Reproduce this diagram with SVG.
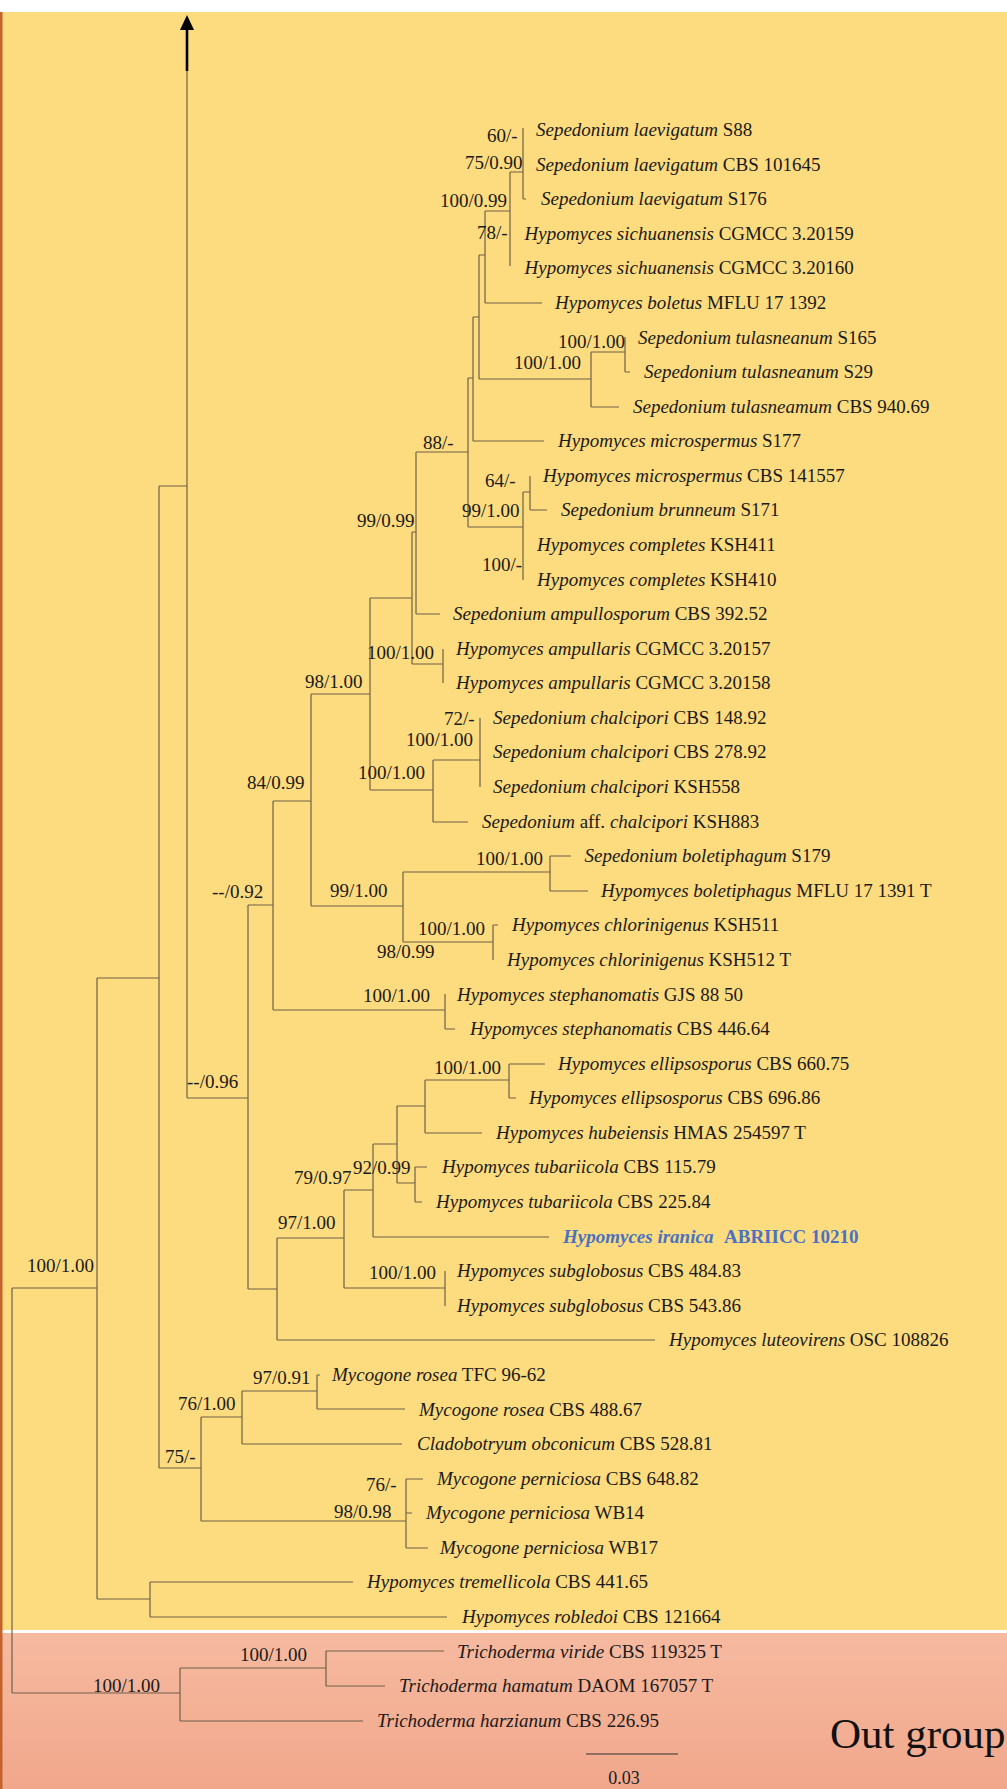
<svg xmlns="http://www.w3.org/2000/svg" width="1007" height="1789" viewBox="0 0 1007 1789">
<style>
.br{fill:none;stroke:#6f6148;stroke-width:1.2}
.lf{font-family:"Liberation Serif","Times New Roman",serif;font-size:19px;fill:#1a1a1a}
.sp{font-family:"Liberation Serif","Times New Roman",serif;font-size:19px;fill:#1a1a1a}
.i{font-style:italic}
</style>
<defs>
<linearGradient id="og" x1="0" y1="0" x2="0" y2="1">
<stop offset="0" stop-color="#F6BAA0"/>
<stop offset="1" stop-color="#F1A78B"/>
</linearGradient>
</defs>
<rect x="0" y="0" width="1007" height="1789" fill="#ffffff"/>
<rect x="0" y="12" width="1007" height="1618" fill="#FDDB7F"/>
<rect x="0" y="1633" width="1007" height="156" fill="url(#og)"/>
<rect x="0" y="12" width="2.5" height="1777" fill="#C4622D"/>

<g id="connectors">
<path class="br" d="M12,1288V1693M12,1288H97M12,1693H180
M180,1668V1721M180,1668H326M180,1721H363M326,1651V1686M326,1651H444M326,1686H385
M97,978V1599M97,1599H150M150,1582V1617M150,1582H353M150,1617H447
M97,978H159M159,486V1468M159,486H187M187,71V1098
M159,1468H201M201,1417V1521M201,1417H242M242,1391V1444M242,1391H317M317,1375V1409M317,1375H320M317,1409H405M242,1444H402
M201,1521H406M406,1479V1548M406,1479H423M406,1513H412M406,1548H428
M187,1098H248M248,905V1289M248,1289H277M277,1238V1340M277,1340H655M277,1238H344
M344,1190V1288M344,1288H445M445,1271V1306
M344,1190H373M373,1144V1237M373,1237H549M373,1144H397M397,1106V1183
M397,1106H425M425,1080V1133M425,1133H482M425,1080H509M509,1064V1098M509,1064H545M509,1098H516
M397,1183H415M415,1167V1202M415,1167H427M415,1202H422
M248,905H273M273,801V1010M273,1010H445M445,994V1029M445,1029H455
M273,801H311M311,694V906M311,906H403M403,872V942M403,872H550M550,856V891M550,856H571M550,891H588
M403,942H493M493,925V960M493,925H498
M311,694H370M370,598V790M370,790H433M433,760V822M433,760H480M480,718V787M433,822H468
M370,598H412M412,532V664M412,664H443M443,649V683M412,532H416M416,452V614M416,614H440
M416,452H468M468,378V527M468,527H523M523,492V580M523,492H530M530,476V510M530,510H547
M468,378H473M473,317V441M473,441H544M473,317H479M479,255V379M479,379H591
M591,352V407M591,407H619M591,352H625M625,337V372M625,372H630
M479,255H485M485,211V303M485,303H542M485,211H510M510,172V266M510,172H523M523,128V199M523,199H526"/>
<path d="M187,29V71" stroke="#000" stroke-width="2.6" fill="none"/>
<polygon points="187,15 180,30 194,30" fill="#000"/>
<path d="M586,1754H678" stroke="#333" stroke-width="1.1" fill="none"/>
</g>

<g id="support">
<text class="sp" x="487" y="142">60/-</text>
<text class="sp" x="465" y="169">75/0.90</text>
<text class="sp" x="440" y="207">100/0.99</text>
<text class="sp" x="477" y="239">78/-</text>
<text class="sp" x="558" y="348">100/1.00</text>
<text class="sp" x="514" y="369">100/1.00</text>
<text class="sp" x="423" y="449">88/-</text>
<text class="sp" x="485" y="487">64/-</text>
<text class="sp" x="462" y="517">99/1.00</text>
<text class="sp" x="357" y="527">99/0.99</text>
<text class="sp" x="482" y="571">100/-</text>
<text class="sp" x="367" y="659">100/1.00</text>
<text class="sp" x="305" y="688">98/1.00</text>
<text class="sp" x="444" y="725">72/-</text>
<text class="sp" x="406" y="746">100/1.00</text>
<text class="sp" x="358" y="779">100/1.00</text>
<text class="sp" x="247" y="789">84/0.99</text>
<text class="sp" x="476" y="865">100/1.00</text>
<text class="sp" x="330" y="897">99/1.00</text>
<text class="sp" x="212" y="898">--/0.92</text>
<text class="sp" x="418" y="935">100/1.00</text>
<text class="sp" x="377" y="958">98/0.99</text>
<text class="sp" x="363" y="1002">100/1.00</text>
<text class="sp" x="434" y="1074">100/1.00</text>
<text class="sp" x="187" y="1088">--/0.96</text>
<text class="sp" x="353" y="1174">92/0.99</text>
<text class="sp" x="294" y="1184">79/0.97</text>
<text class="sp" x="278" y="1229">97/1.00</text>
<text class="sp" x="27" y="1272">100/1.00</text>
<text class="sp" x="369" y="1279">100/1.00</text>
<text class="sp" x="253" y="1384">97/0.91</text>
<text class="sp" x="178" y="1410">76/1.00</text>
<text class="sp" x="165" y="1463">75/-</text>
<text class="sp" x="366" y="1491">76/-</text>
<text class="sp" x="334" y="1518">98/0.98</text>
<text class="sp" x="240" y="1661">100/1.00</text>
<text class="sp" x="93" y="1692">100/1.00</text>
</g>

<g id="leaves">
<g id="n1"><text class="lf" x="536" y="136"><tspan class="i">Sepedonium laevigatum</tspan> S88</text></g>
<g id="n2"><text class="lf" x="536" y="170.6"><tspan class="i">Sepedonium laevigatum</tspan> CBS 101645</text></g>
<g id="n3"><text class="lf" x="541" y="205"><tspan class="i">Sepedonium laevigatum</tspan> S176</text></g>
<g id="n4"><text class="lf" x="524.5" y="239.7"><tspan class="i">Hypomyces sichuanensis</tspan> CGMCC 3.20159</text></g>
<g id="n5"><text class="lf" x="524.5" y="274.3"><tspan class="i">Hypomyces sichuanensis</tspan> CGMCC 3.20160</text></g>
<g id="n6"><text class="lf" x="555" y="309"><tspan class="i">Hypomyces boletus</tspan> MFLU 17 1392</text></g>
<g id="n7"><text class="lf" x="638" y="343.5"><tspan class="i">Sepedonium tulasneanum</tspan> S165</text></g>
<g id="n8"><text class="lf" x="644" y="378"><tspan class="i">Sepedonium tulasneanum</tspan> S29</text></g>
<g id="n9"><text class="lf" x="633" y="412.6"><tspan class="i">Sepedonium tulasneamum</tspan> CBS 940.69</text></g>
<g id="n10"><text class="lf" x="558" y="447.2"><tspan class="i">Hypomyces microspermus</tspan> S177</text></g>
<g id="n11"><text class="lf" x="543" y="481.8"><tspan class="i">Hypomyces microspermus</tspan> CBS 141557</text></g>
<g id="n12"><text class="lf" x="561" y="516.4"><tspan class="i">Sepedonium brunneum</tspan> S171</text></g>
<g id="n13"><text class="lf" x="537" y="551"><tspan class="i">Hypomyces completes</tspan> KSH411</text></g>
<g id="n14"><text class="lf" x="537" y="585.5"><tspan class="i">Hypomyces completes</tspan> KSH410</text></g>
<g id="n15"><text class="lf" x="453" y="620"><tspan class="i">Sepedonium ampullosporum</tspan> CBS 392.52</text></g>
<g id="n16"><text class="lf" x="456" y="654.7"><tspan class="i">Hypomyces ampullaris</tspan> CGMCC 3.20157</text></g>
<g id="n17"><text class="lf" x="456" y="689.3"><tspan class="i">Hypomyces ampullaris</tspan> CGMCC 3.20158</text></g>
<g id="n18"><text class="lf" x="493" y="723.9"><tspan class="i">Sepedonium chalcipori</tspan> CBS 148.92</text></g>
<g id="n19"><text class="lf" x="493" y="758.4"><tspan class="i">Sepedonium chalcipori</tspan> CBS 278.92</text></g>
<g id="n20"><text class="lf" x="493" y="793"><tspan class="i">Sepedonium chalcipori</tspan> KSH558</text></g>
<g id="n21"><text class="lf" x="482" y="827.6"><tspan class="i">Sepedonium</tspan> aff. <tspan class="i">chalcipori</tspan> KSH883</text></g>
<g id="n22"><text class="lf" x="584.5" y="862.2"><tspan class="i">Sepedonium boletiphagum</tspan> S179</text></g>
<g id="n23"><text class="lf" x="601" y="896.8"><tspan class="i">Hypomyces boletiphagus</tspan> MFLU 17 1391 T</text></g>
<g id="n24"><text class="lf" x="512" y="931.3"><tspan class="i">Hypomyces chlorinigenus</tspan> KSH511</text></g>
<g id="n25"><text class="lf" x="507" y="966"><tspan class="i">Hypomyces chlorinigenus</tspan> KSH512 T</text></g>
<g id="n26"><text class="lf" x="457" y="1000.5"><tspan class="i">Hypomyces stephanomatis</tspan> GJS 88 50</text></g>
<g id="n27"><text class="lf" x="470" y="1035"><tspan class="i">Hypomyces stephanomatis</tspan> CBS 446.64</text></g>
<g id="n28"><text class="lf" x="558" y="1069.7"><tspan class="i">Hypomyces ellipsosporus</tspan> CBS 660.75</text></g>
<g id="n29"><text class="lf" x="529" y="1104.2"><tspan class="i">Hypomyces ellipsosporus</tspan> CBS 696.86</text></g>
<g id="n30"><text class="lf" x="496" y="1138.8"><tspan class="i">Hypomyces hubeiensis</tspan> HMAS 254597 T</text></g>
<g id="n31"><text class="lf" x="442" y="1173.4"><tspan class="i">Hypomyces tubariicola</tspan> CBS 115.79</text></g>
<g id="n32"><text class="lf" x="436" y="1208"><tspan class="i">Hypomyces tubariicola</tspan> CBS 225.84</text></g>
<g id="n33"><text class="lf" x="563" y="1242.6" font-weight="bold" style="fill:#4A72C0"><tspan class="i">Hypomyces iranica</tspan><tspan x="724">ABRIICC 10210</tspan></text></g>
<g id="n34"><text class="lf" x="457" y="1277"><tspan class="i">Hypomyces subglobosus</tspan> CBS 484.83</text></g>
<g id="n35"><text class="lf" x="457" y="1311.7"><tspan class="i">Hypomyces subglobosus</tspan> CBS 543.86</text></g>
<g id="n36"><text class="lf" x="669" y="1346.3"><tspan class="i">Hypomyces luteovirens</tspan> OSC 108826</text></g>
<g id="n37"><text class="lf" x="332" y="1380.9"><tspan class="i">Mycogone rosea</tspan> TFC 96-62</text></g>
<g id="n38"><text class="lf" x="419" y="1415.5"><tspan class="i">Mycogone rosea</tspan> CBS 488.67</text></g>
<g id="n39"><text class="lf" x="417" y="1450"><tspan class="i">Cladobotryum obconicum</tspan> CBS 528.81</text></g>
<g id="n40"><text class="lf" x="437" y="1484.6"><tspan class="i">Mycogone perniciosa</tspan> CBS 648.82</text></g>
<g id="n41"><text class="lf" x="426" y="1519.2"><tspan class="i">Mycogone perniciosa</tspan> WB14</text></g>
<g id="n42"><text class="lf" x="440" y="1553.8"><tspan class="i">Mycogone perniciosa</tspan> WB17</text></g>
<g id="n43"><text class="lf" x="367" y="1588.4"><tspan class="i">Hypomyces tremellicola</tspan> CBS 441.65</text></g>
<g id="n44"><text class="lf" x="462" y="1623"><tspan class="i">Hypomyces robledoi</tspan> CBS 121664</text></g>
<g id="n45"><text class="lf" x="457" y="1657.5"><tspan class="i">Trichoderma viride</tspan> CBS 119325 T</text></g>
<g id="n46"><text class="lf" x="399" y="1692"><tspan class="i">Trichoderma hamatum</tspan> DAOM 167057 T</text></g>
<g id="n47"><text class="lf" x="377" y="1726.7"><tspan class="i">Trichoderma harzianum</tspan> CBS 226.95</text></g>
</g>

<g id="scale"><text class="lf" x="624" y="1784" text-anchor="middle" style="font-size:18px">0.03</text></g>
<g id="outgroup-label"><text x="830" y="1748" font-family="Liberation Serif, Times New Roman, serif" font-size="43" fill="#111">Out group</text></g>
</svg>
